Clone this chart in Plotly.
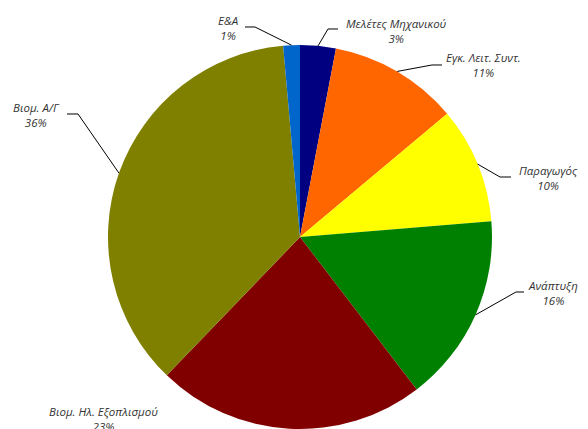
import math
import plotly.graph_objects as go

# ---- data ----
categories = ["Μελέτες Μηχανικού", "Εγκ. Λειτ. Συντ.", "Παραγωγός", "Ανάπτυξη",
              "Βιομ. Ηλ. Εξοπλισμού", "Βιομ. Α/Γ", "Ε&Α"]
values = [3.0, 10.9, 9.8, 15.9, 22.6, 36.4, 1.4]

# ---- styles / layout ----
colors = ["#000080", "#FF6600", "#FFFF00", "#008000", "#800000", "#808000", "#0066CC"]
OFF = 8                      # page body margin
W, H = 588 - OFF, 429 - OFF  # figure size
CX, CY, R = 300, 237, 192    # pie centre / radius in window pixels
# label centre (window px) and leader-line elbow/end (window px); None = no leader
label_pos = [(396, 31), (483, 65), (548, 178), (553, 293), (103, 419), (36, 115), (228, 28)]
leader_pts = [
    [(328, 29), (338, 29)],
    [(432, 65), (442, 65)],
    [(500, 177), (511, 177)],
    [(516, 292), (524, 292)],
    None,
    [(78, 114), (67, 114)],
    [(255, 27), (245, 27)],
]

def px2paper(x, y):
    return (x - OFF) / W, 1 - (y - OFF) / H

x0, y1 = px2paper(CX - R, CY - R)
x1, y0 = px2paper(CX + R, CY + R)
fig = go.Figure(go.Pie(
    labels=categories, values=values, sort=False, direction="clockwise", rotation=0,
    marker=dict(colors=colors, line=dict(width=0)),
    textinfo="none", hoverinfo="label+percent", showlegend=False,
    domain=dict(x=[x0, x1], y=[y0, y1]),
))

total = sum(values)
cum = 0.0
annotations = []
shapes = []
font = dict(family="Open Sans, DejaVu Sans, sans-serif", size=11.5, color="#333333")
for i, (cat, v) in enumerate(zip(categories, values)):
    mid = (cum + v / 2) / total * 2 * math.pi
    cum += v
    sx = CX + R * math.sin(mid)
    sy = CY - R * math.cos(mid)
    pct = round(v / total * 100)
    lx, ly = label_pos[i]
    ax, ay = px2paper(lx, ly)
    annotations.append(dict(x=ax, y=ay, xref="paper", yref="paper", showarrow=False,
                            text=f"<i>{cat}<br>{pct}%</i>", font=font,
                            xanchor="center", yanchor="middle", align="center"))
    if leader_pts[i]:
        pts = [(sx, sy)] + leader_pts[i]
        path = "M " + " L ".join(f"{px2paper(x, y)[0]:.5f},{px2paper(x, y)[1]:.5f}" for x, y in pts)
        shapes.append(dict(type="path", path=path, xref="paper", yref="paper",
                           line=dict(color="#000000", width=1)))

fig.update_layout(
    width=W, height=H, margin=dict(l=0, r=0, t=0, b=0),
    paper_bgcolor="white", plot_bgcolor="white",
    annotations=annotations, shapes=shapes,
)
fig.write_html("out.html")
